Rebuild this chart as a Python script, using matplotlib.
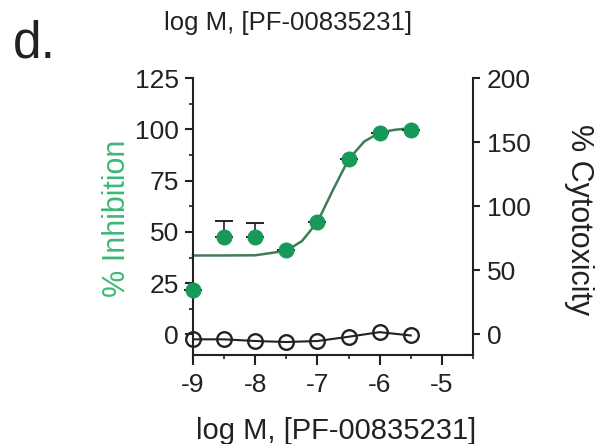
import matplotlib
matplotlib.use("Agg")
import matplotlib.pyplot as plt
from matplotlib.ticker import MultipleLocator

plt.rcParams['font.family'] = ['Liberation Sans', 'DejaVu Sans']
plt.rcParams['axes.unicode_minus'] = False

# concentrations, log M
log_conc = [-9.0, -8.5, -8.0, -7.5, -7.0, -6.5, -6.0, -5.5]

# % inhibition (mean) and upper SEM
inhibition = [21.5, 47.5, 47.5, 41.0, 54.8, 85.6, 98.2, 99.8]
inhibition_err = [0, 8.0, 7.0, 0, 0, 0, 0, 0]

# fitted dose-response curve
fit_x = [-9.0, -8.5, -8.0, -7.5, -7.25, -7.0, -6.75, -6.5, -6.25, -6.0, -5.75, -5.5]
fit_y = [38.5, 38.5, 38.6, 40.8, 45.5, 54.8, 70.5, 85.3, 94.0, 98.4, 99.8, 100.5]

# % cytotoxicity
cytotox = [-3.8, -3.8, -5.1, -5.9, -5.1, -1.8, 1.8, -0.8]

green = '#17995a'
green_label = '#3cb878'
fit_color = '#3f7d58'
ink = '#222222'

fig = plt.figure(figsize=(5.97, 4.44), dpi=100)
ax = fig.add_axes([0.3233, 0.2005, 0.469, 0.6238])
ax2 = ax.twinx()

ax.plot(fit_x, fit_y, color=fit_color, lw=1.8, zorder=2, clip_on=False)
ax.errorbar(log_conc, inhibition, yerr=[[0] * len(inhibition), inhibition_err],
            fmt='none', ecolor=ink, elinewidth=1.2, capsize=6.5, capthick=1.4,
            zorder=3, clip_on=False)
ax.plot(log_conc, inhibition, 'o', color=green, ms=10.5, zorder=4, clip_on=False)

ax2.plot(log_conc, cytotox, '-o', color=ink, lw=1.5, ms=10.5, mfc='none',
         mec=ink, mew=1.7, clip_on=False)

ax.set_xlim(-9, -4.5)
ax.set_ylim(-10, 125)
ax2.set_ylim(-16, 200)

ax.set_xticks([-9, -8, -7, -6, -5])
ax.xaxis.set_minor_locator(MultipleLocator(0.5))
ax.set_yticks([0, 25, 50, 75, 100, 125])
ax.yaxis.set_minor_locator(MultipleLocator(12.5))
ax2.set_yticks([0, 50, 100, 150, 200])

for a in (ax, ax2):
    a.spines['top'].set_visible(False)
    for s in a.spines.values():
        s.set_linewidth(1.5)
        s.set_color(ink)
    a.set_zorder(1)
ax.patch.set_visible(False)
ax2.patch.set_visible(False)
ax.spines['right'].set_visible(False)
ax2.spines['left'].set_visible(False)
ax2.spines['bottom'].set_visible(False)

ax.tick_params(axis='both', which='major', direction='out', length=6, width=1.5,
               labelsize=19, colors=ink, pad=4)
ax.tick_params(axis='both', which='minor', direction='out', length=3, width=1.2, colors=ink)
ax.tick_params(axis='x', which='major', length=7, pad=6)
ax2.tick_params(axis='y', which='major', direction='out', length=5, width=1.5,
                labelsize=19, colors=ink, pad=5)

ax.set_ylabel('% Inhibition', color=green_label, fontsize=22, va='center')
ax.yaxis.set_label_coords(-0.271, 0.495)
ax2.set_ylabel('% Cytotoxicity', color=ink, fontsize=22, rotation=270, va='center')
ax2.yaxis.set_label_coords(1.379, 0.49)
ax.set_xlabel('log M, [PF-00835231]', fontsize=21, color=ink, va='center')
ax.xaxis.set_label_coords(0.51, -0.274)

fig.text(288 / 597, 1 - 23 / 444, 'log M, [PF-00835231]', fontsize=18.5,
         color=ink, ha='center', va='center')
fig.text(13 / 597, 1 - 58 / 444, 'd.', fontsize=37, color=ink, ha='left', va='baseline')

fig.savefig('out.png', dpi=100)
